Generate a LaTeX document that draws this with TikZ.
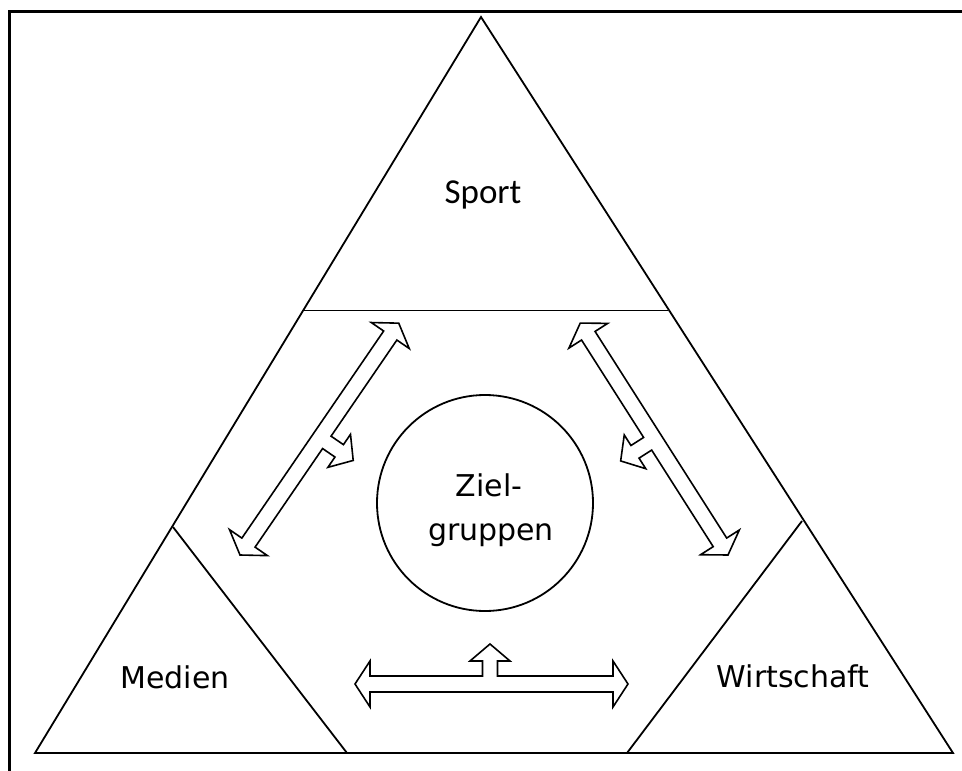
\documentclass[tikz,border=0pt]{standalone}
\usepackage{fontspec}
\setmainfont{DejaVu Sans}
\newfontfamily\calib{Carlito}
\usetikzlibrary{calc}
\tikzset{
  shapeline/.style={line width=1.8pt, line join=miter},
  arrowline/.style={line width=1.6pt, line join=miter, fill=white},
  lbl/.style={font=\fontsize{30}{36}\selectfont, inner sep=0pt, align=center},
  pics/dblarrow/.style n args={3}{code={
    \draw[arrowline] (0,0) -- (15,{#3*23}) -- (15,{#3*8}) -- ({#2-7.5},{#3*8}) -- ({#2-7.5},{#3*23})
      -- ({#2-20},{#3*23}) -- (#2,{#3*40}) -- ({#2+20},{#3*23}) -- ({#2+7.5},{#3*23})
      -- ({#2+7.5},{#3*8}) -- ({#1-15},{#3*8}) -- ({#1-15},{#3*23}) -- (#1,0)
      -- ({#1-15},{-#3*23}) -- ({#1-15},{-#3*8}) -- (15,{-#3*8}) -- (15,{-#3*23}) -- cycle;
  }}
}
\begin{document}
\begin{tikzpicture}[x=1pt,y=-1pt]
\useasboundingbox (0,0) rectangle (962,771);
\fill[white] (0,0) rectangle (962,771);
% frame
\coordinate (F1) at (9,771);
\coordinate (F2) at (9,11);
\coordinate (F3) at (962,11);
\draw[line width=3pt] (F1) -- (F2) -- (F3);
% outer triangle
\coordinate (A) at (481,17);
\coordinate (BL) at (35,753);
\coordinate (BR) at (953,753);
\draw[shapeline] (A) -- (BL) -- (BR) -- cycle;
% Sport base
\coordinate (SL) at (302,310.5);
\coordinate (SR) at (668,310.5);
\draw[shapeline] (SL) -- (SR);
% Medien / Wirtschaft cuts
\coordinate (ML) at (173,527);
\coordinate (MB) at (347,753);
\coordinate (WR) at (802,521);
\coordinate (WB) at (627,753);
\draw[shapeline] (ML) -- (MB);
\draw[shapeline] (WR) -- (WB);
% circle
\node[draw, circle, line width=1.8pt, minimum size=216pt, inner sep=0pt] (zg) at (485,503) {};
% labels
\node[font=\calib\fontsize{35}{42}\selectfont, inner sep=0pt, anchor=base] (sport) at (483,203) {Sport};
\node[lbl, anchor=base] (ziel) at (489,496) {Ziel-};
\node[lbl, anchor=base] (grp) at (491,540) {gruppen};
\node[lbl, anchor=base] (med) at (175,688) {Medien};
\node[lbl, anchor=base] (wir) at (793,687) {Wirtschaft};
% arrows
\coordinate (LA) at (240,555);
\coordinate (RA) at (728,555);
\coordinate (BA) at (355,684);
\path (LA) pic[rotate=55.6] (larr) {dblarrow={281}{142}{1}};
\path (RA) pic[rotate=122.5] (rarr) {dblarrow={275}{137}{-1}};
\path (BA) pic (barr) {dblarrow={273}{135}{-1}};
\end{tikzpicture}
\end{document}
